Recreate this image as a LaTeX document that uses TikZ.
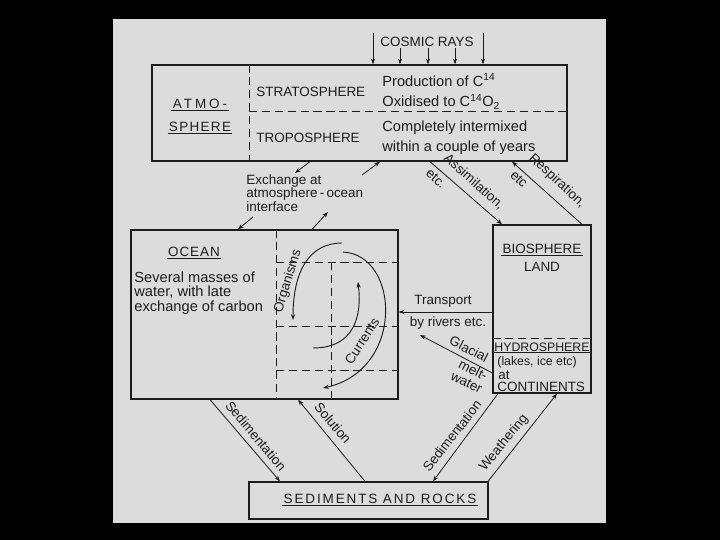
\documentclass[tikz,border=0pt]{standalone}
\usepackage{fontspec}
\setmainfont{Liberation Sans}
\usetikzlibrary{arrows.meta,fit}
\definecolor{paper}{HTML}{DCDCDC}
\definecolor{ink}{HTML}{1C1C1C}
\newcommand\spaced[2]{{\addfontfeature{LetterSpace=#1}#2}}
\tikzset{
  box/.style={draw=ink,line width=1.1pt,inner sep=0pt},
  arr/.style={->,draw=ink,line width=0.7pt},
  dashline/.style={draw=ink,line width=0.8pt,dash pattern=on 7pt off 4pt},
  lbl/.style={text=ink,inner sep=1pt},
  bigtext/.style={font=\fontsize{12.5}{14}\selectfont},
  uline/.style={draw=ink,line width=0.8pt}
}
\begin{document}
\begin{tikzpicture}[x=0.03cm,y=-0.03cm,>={Stealth[length=5pt,width=3.6pt]},every node/.style={font=\fontsize{11.5}{13}\selectfont}]
\fill[black] (0,0) rectangle (720,540);
\fill[paper] (113,19) rectangle (606,523);
\node[box,fit={(152,65) (567,161)}] (atm) {};
\node[box,fit={(131,230) (398,399)}] (ocean) {};
\node[box,fit={(493,225) (591,393)}] (bio) {};
\node[box,fit={(249,482) (488,519)}] (sed) {};
\draw[dashline] (249,0 |- atm.north) -- (249,0 |- atm.south);
\draw[dashline] (249,111) -- (atm.east |- 0,111);
\draw[dashline] (276,0 |- ocean.north) -- (276,0 |- ocean.south);
\foreach \y in {262,326,370}
  \draw[dashline] (276,\y) -- (ocean.east |- 0,\y);
\draw[dashline] (331,262) -- (331,0 |- ocean.south);
\draw[dashline] (bio.west |- 0,338) -- (bio.east |- 0,338);
\node[lbl] (cosmic) at (427,42) {COSMIC RAYS};
\foreach \x/\y in {373/33,400/48,428/48,455/48,483/33}
  \draw[arr] (\x,\y) -- (\x,0 |- atm.north);
\node[lbl] (atmo) at (200,104) {\spaced{22}{ATMO-}};
\node[lbl] (sphere) at (200,127) {\spaced{10}{SPHERE}};
\draw[uline] (atmo.south west) -- (atmo.south east);
\draw[uline] (sphere.south west) -- (sphere.south east);
\node[lbl,anchor=west] (strato) at (255,92) {STRATOSPHERE};
\node[lbl,anchor=west] (tropo) at (255,138) {TROPOSPHERE};
\node[lbl,bigtext,anchor=west] (prod) at (381,80) {Production of C\textsuperscript{14}};
\node[lbl,bigtext,anchor=west] (oxid) at (381,102) {Oxidised to C\textsuperscript{14}O\textsubscript{2}};
\node[lbl,bigtext,anchor=west] (mixA) at (381,128) {Completely intermixed};
\node[lbl,bigtext,anchor=west] (mixB) at (381,148) {within a couple of years};
\node[lbl,anchor=west,align=left,font=\fontsize{11.5}{9}\selectfont] (exch) at (245,193) {Exchange at\\atmosphere\,-\,ocean\\interface};
\draw[arr] (310,0 |- atm.south) -- (295,173);
\draw[arr] (362,175) -- (380,0 |- atm.south);
\draw[arr] (253,217) -- (238,0 |- ocean.north);
\draw[arr] (312,0 |- ocean.north) -- (328,212);
\node[lbl] (oceant) at (194,252) {\spaced{7}{OCEAN}};
\draw[uline] (oceant.south west) -- (oceant.south east);
\node[lbl,anchor=west,align=left,font=\fontsize{12.5}{12.4}\selectfont] (masses) at (133,293) {Several masses of\\water, with late\\exchange of carbon};
\draw[arr,line width=0.8pt] (342,243) .. controls (310,243) and (293,270) .. (293,320);
\draw[arr,line width=0.8pt] (313,348) .. controls (355,348) and (362,315) .. (358,282);
\draw[arr,line width=0.8pt] (343,252) .. controls (400,255) and (405,370) .. (323,388);
\node[lbl,rotate=73] (organ) at (288,281) {Organisms};
\node[lbl,rotate=57] (curr) at (362,341) {Currents};
\node[lbl] (biot) at (542,249) {BIOSPHERE};
\draw[uline] (biot.south west) -- (biot.south east);
\node[lbl] (land) at (542,267) {LAND};
\node[lbl,font=\fontsize{10.5}{12}\selectfont] (hydro) at (542,347) {HYDROSPHERE};
\draw[uline] (hydro.south west) -- (hydro.south east);
\node[lbl,anchor=west,font=\fontsize{10.5}{12}\selectfont] (lakes) at (496,362) {(lakes, ice etc)};
\node[lbl,anchor=west] (at) at (497,375) {at};
\node[lbl,anchor=west] (conti) at (496,387) {CONTINENTS};
\draw[arr] (bio.west |- 0,312) -- (ocean.east |- 0,312);
\node[lbl] (transA) at (443,301) {Transport};
\node[lbl] (transB) at (448,323) {by rivers etc.};
\coordinate (glac) at (420,335);
\draw[arr] (bio.west |- 0,373) -- (glac);
\node[lbl,rotate=-27] (glacA) at (469,349) {Glacial};
\node[lbl,rotate=-27,align=center,font=\fontsize{11.5}{12}\selectfont] (glacB) at (470,376) {melt-\\water};
\draw[arr] (430,0 |- atm.south) -- (502,0 |- bio.north);
\node[lbl,rotate=-42] (assim) at (474,182) {Assimilation,};
\node[lbl,rotate=-42] (etcA) at (436,179) {etc.};
\draw[arr] (582,0 |- bio.north) -- (512,0 |- atm.south);
\node[lbl,rotate=-43] (resp) at (557,181) {Respiration,};
\node[lbl,rotate=-43] (etcB) at (519,179) {etc};
\draw[arr] (210,0 |- ocean.south) -- (280,0 |- sed.north);
\node[lbl,rotate=-50] (sedA) at (256,436) {Sedimentation};
\draw[arr] (365,0 |- sed.north) -- (298,0 |- ocean.south);
\node[lbl,rotate=-50] (solu) at (333,423) {Solution};
\draw[arr] (498,0 |- bio.south) -- (433,0 |- sed.north);
\node[lbl,rotate=52] (sedB) at (452,436) {Sedimentation};
\draw[arr] (488,0 |- sed.north) -- (557,0 |- bio.south);
\node[lbl,rotate=51] (weath) at (504,443) {Weathering};
\node[lbl] (sedt) at (380,499) {\spaced{14}{SEDIMENTS AND ROCKS}};
\draw[uline] (sedt.south west) -- (sedt.south east);
\end{tikzpicture}
\end{document}
